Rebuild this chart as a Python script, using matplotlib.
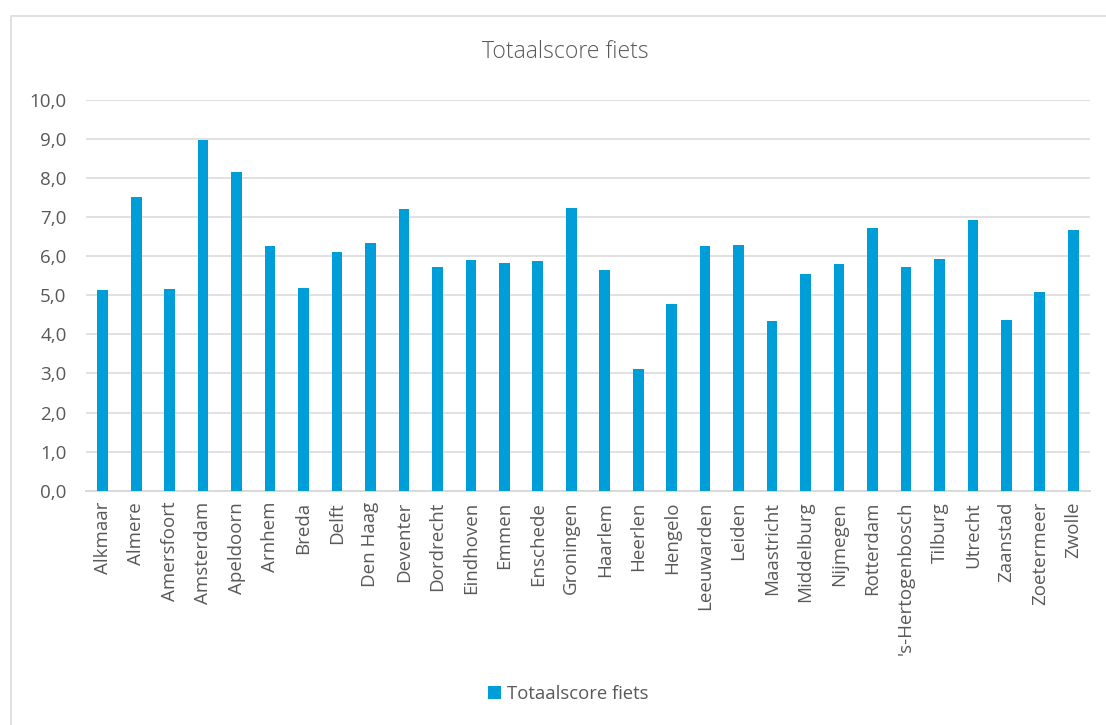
import matplotlib
matplotlib.use("Agg")
import matplotlib.pyplot as plt
from matplotlib.patches import Rectangle
from matplotlib.ticker import FuncFormatter, MultipleLocator

# Cycling score per municipality
cities = [
    "Alkmaar", "Almere", "Amersfoort", "Amsterdam", "Apeldoorn", "Arnhem",
    "Breda", "Delft", "Den Haag", "Deventer", "Dordrecht", "Eindhoven",
    "Emmen", "Enschede", "Groningen", "Haarlem", "Heerlen", "Hengelo",
    "Leeuwarden", "Leiden", "Maastricht", "Middelburg", "Nijmegen",
    "Rotterdam", "'s-Hertogenbosch", "Tilburg", "Utrecht", "Zaanstad",
    "Zoetermeer", "Zwolle",
]
scores = [
    5.13, 7.51, 5.15, 8.98, 8.15, 6.26,
    5.18, 6.11, 6.34, 7.22, 5.73, 5.91,
    5.82, 5.88, 7.23, 5.66, 3.11, 4.79,
    6.26, 6.29, 4.34, 5.54, 5.80,
    6.72, 5.72, 5.93, 6.93, 4.37,
    5.08, 6.66,
]
series_name = "Totaalscore fiets"

plt.rcParams["font.family"] = ["Open Sans", "DejaVu Sans"]
TEXT = "#595959"
GRID = "#D9D9D9"
BAR = "#009ED9"

fig = plt.figure(figsize=(11.06, 7.25), dpi=100)
fig.patch.set_facecolor("white")

# chart frame
fig.add_artist(Rectangle((11 / 1106, -0.2), 1.5, 1 - 16 / 725 + 0.2,
                         transform=fig.transFigure, fill=False,
                         edgecolor=GRID, linewidth=1.1))

ax = fig.add_axes([86 / 1106, 1 - 490.7 / 725, (1090 - 86) / 1106, (490.7 - 100) / 725])
x = range(len(cities))
ax.bar(x, scores, width=0.32, color=BAR, label=series_name, zorder=3)

ax.set_xlim(-0.5, len(cities) - 0.5)
ax.set_ylim(0, 10)
ax.yaxis.set_major_locator(MultipleLocator(1))
ax.yaxis.set_major_formatter(FuncFormatter(lambda v, p: f"{v:.1f}".replace(".", ",")))
ax.grid(axis="y", color=GRID, linewidth=1.1, zorder=0)
ax.set_axisbelow(True)

for side in ("top", "right", "left"):
    ax.spines[side].set_visible(False)
ax.spines["bottom"].set_color(GRID)
ax.spines["bottom"].set_linewidth(1.4)

ax.set_xticks(list(x))
ax.set_xticklabels(cities, rotation=90, fontsize=13.5, color=TEXT)
ax.tick_params(axis="x", length=0, pad=8)
ax.tick_params(axis="y", length=0, pad=14, labelsize=13.5, labelcolor=TEXT)

fig.text(0.511, 1 - 52 / 725, series_name, ha="center", va="center",
         fontsize=16.5, color=TEXT, fontweight="light")

fig.legend(loc="center", bbox_to_anchor=(0.514, 1 - 694 / 725), frameon=False,
           fontsize=13.3, labelcolor=TEXT, handlelength=0.7, handleheight=0.7,
           handletextpad=0.3)

fig.savefig("out.png", dpi=100, facecolor="white")
